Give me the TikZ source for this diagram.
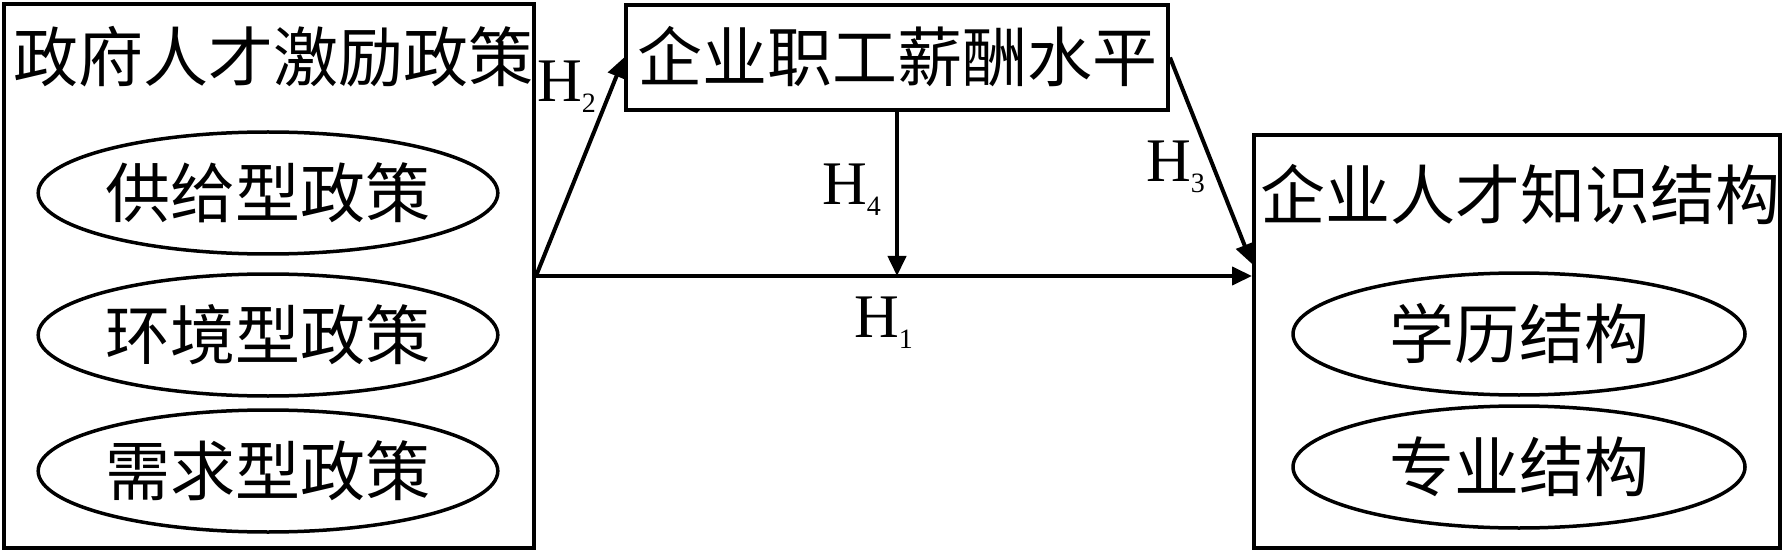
\documentclass[tikz,border=0pt]{standalone}
\usepackage{fontspec}
\setmainfont{Liberation Serif}
\newfontfamily\cjk{Noto Sans CJK SC}
\usetikzlibrary{shapes.geometric,arrows.meta}
\newcommand{\hyp}[1]{H\raisebox{-11pt}{\fontsize{28}{28}\selectfont #1}}

\begin{document}
\begin{tikzpicture}[x=1pt,y=-1pt,
  frame/.style={draw,line width=4pt,inner sep=0pt},
  cn/.style={font=\cjk\fontsize{65}{65}\selectfont,inner sep=0pt},
  policy/.style={ellipse,draw,line width=3.5pt,minimum width=452pt,minimum height=122pt,cn},
  hlabel/.style={font=\fontsize{62}{62}\selectfont,inner sep=0pt,anchor=base west},
  arrow/.style={-{Triangle[length=20pt,width=18pt]},line width=4pt}]
        \useasboundingbox (0,0) rectangle (1787,553);
        % left block
        \node [frame,minimum width=530pt,minimum height=544pt] (gov) at (269,276) {};
        \node [cn] (govtitle) at (273,57) {政府人才激励政策};
        \node [policy] (supply) at (268,193) {供给型政策};
        \node [policy] (environ) at (268,335) {环境型政策};
        \node [policy] (demand) at (268,471) {需求型政策};
        % middle block
        \node [frame,minimum width=542pt,minimum height=105pt] (pay) at (897,57.5) {};
        \node [cn] (paytitle) at (897,57) {企业职工薪酬水平};
        % right block
        \node [frame,minimum width=526pt,minimum height=413pt] (know) at (1517,341.5) {};
        \node [cn] (knowtitle) at (1520,195) {企业人才知识结构};
        \node [policy] (degree) at (1519,334) {学历结构};
        \node [policy] (major) at (1519,467) {专业结构};
        % paths
        \coordinate (h1end) at (know.west |- gov.east);
        \coordinate (h3end) at (1252,264);
        \draw [arrow] (gov.east) -- (h1end);
        \draw [arrow] (gov.east) -- (pay.west);
        \draw [arrow] (pay.east) -- (h3end);
        \draw [arrow] (pay.south) -- (pay.south |- gov.east);
        \node [hlabel] (h1) at (854,337) {\hyp{1}};
        \node [hlabel] (h2) at (537,102) {\hyp{2}};
        \node [hlabel] (h3) at (1146,182) {\hyp{3}};
        \node [hlabel] (h4) at (822,205) {\hyp{4}};
    \end{tikzpicture}
\end{document}
